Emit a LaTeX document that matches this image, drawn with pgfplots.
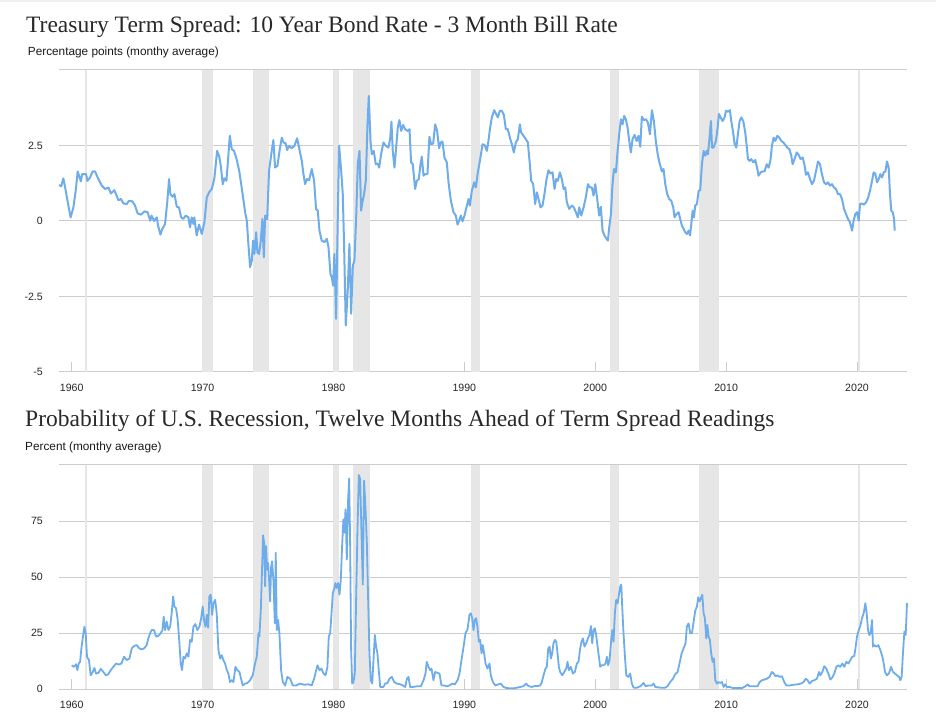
\documentclass[border=0pt]{standalone}
\usepackage{fontspec}
\setmainfont{Liberation Sans}
\newfontfamily\titlefont{Liberation Serif}
\usepackage{pgfplots}
\pgfplotsset{compat=1.18}
\definecolor{linecol}{RGB}{110,172,234}
\definecolor{recgray}{RGB}{230,230,230}
\definecolor{gridgray}{RGB}{204,204,204}
\definecolor{titlecol}{RGB}{40,40,40}
\definecolor{topstrip}{RGB}{242,240,237}

\pgfplotsset{myaxis/.style={
  scale only axis, width=848pt,
  xmin=1959.03, xmax=2023.82,
  axis line style={draw=none},
  xtick={1960,1970,1980,1990,2000,2010,2020},
  xticklabels={1960,1970,1980,1990,2000,2010,2020},
  xtick pos=bottom, ytick pos=left,
  tick align=inside, major tick length=10pt,
  xtick style={draw=gridgray, line width=0.9pt},
  ytick style={draw=none},
  ymajorgrids=true,
  grid style={gridgray, line width=1pt},
  /pgf/number format/assume math mode=true,
  ticklabel style={font=\fontsize{10.6}{12}\selectfont, text=black!85},
  yticklabel style={anchor=east, inner sep=0pt, xshift=-16pt},
  xticklabel style={anchor=north, inner sep=0pt, yshift=-11.5pt},
  clip=false,
}}

\newcommand{\recbands}[2]{%
  \fill[recgray] (axis cs:1961.01,#1) rectangle (axis cs:1961.14,#2);
  \fill[recgray] (axis cs:1969.96,#1) rectangle (axis cs:1970.82,#2);
  \fill[recgray] (axis cs:1973.86,#1) rectangle (axis cs:1975.08,#2);
  \fill[recgray] (axis cs:1980.0,#1) rectangle (axis cs:1980.45,#2);
  \fill[recgray] (axis cs:1981.48,#1) rectangle (axis cs:1982.8,#2);
  \fill[recgray] (axis cs:1990.52,#1) rectangle (axis cs:1991.22,#2);
  \fill[recgray] (axis cs:2001.15,#1) rectangle (axis cs:2001.83,#2);
  \fill[recgray] (axis cs:2007.95,#1) rectangle (axis cs:2009.42,#2);
  \fill[recgray] (axis cs:2020.07,#1) rectangle (axis cs:2020.2,#2);
}

\begin{document}
\begin{tikzpicture}[x=1pt,y=1pt]
\useasboundingbox (0,0) rectangle (936,712);
\fill[topstrip] (0,709.5) rectangle (936,712);

% titles
\node[anchor=base west, inner sep=0pt, text=titlecol, font=\titlefont\fontsize{23.5}{28}\selectfont] at (26,679.7) {Treasury Term Spread: 10 Year Bond Rate - 3 Month Bill Rate};
\node[anchor=base west, inner sep=0pt, text=black!90, font=\fontsize{11.8}{14}\selectfont] at (27.7,656.3) {Percentage points (monthy average)};
\node[anchor=base west, inner sep=0pt, text=titlecol, font=\titlefont\fontsize{23.5}{28}\selectfont] at (25,285.3) {Probability of U.S. Recession, Twelve Months Ahead of Term Spread Readings};
\node[anchor=base west, inner sep=0pt, text=black!90, font=\fontsize{11.8}{14}\selectfont] at (25,261.3) {Percent (monthy average)};

\begin{axis}[myaxis, at={(59pt,340pt)}, anchor=south west, height=302pt,
  ymin=-5, ymax=5, ytick={-5,-2.5,0,2.5,5}, yticklabels={-5,-2.5,0,2.5,{}}]
\recbands{-5}{5}
\addplot[linecol, line width=2pt, line join=round] coordinates {
(1959.03,1.19)(1959.2,1.15)(1959.36,1.41)(1959.5,1.11)(1959.7,0.62)(1959.92,0.12)(1960.13,0.45)(1960.3,0.98)(1960.46,1.64)(1960.7,1.31)(1960.8,1.55)(1961.1,1.55)(1961.2,1.33)(1961.4,1.44)(1961.6,1.64)(1961.78,1.64)(1962.04,1.39)(1962.3,1.17)(1962.55,1.06)(1962.8,1.11)(1963.0,0.91)(1963.26,1.02)(1963.57,0.69)(1963.77,0.73)(1963.95,0.58)(1964.2,0.56)(1964.38,0.67)(1964.64,0.65)(1964.84,0.51)(1965.04,0.25)(1965.3,0.21)(1965.55,0.32)(1965.8,0.29)(1966.0,0.01)(1966.1,0.18)(1966.3,0.0)(1966.5,0.12)(1966.6,-0.15)(1966.78,-0.45)(1966.93,-0.26)(1967.13,-0.1)(1967.3,0.62)(1967.44,1.39)(1967.54,0.89)(1967.7,0.8)(1967.85,0.89)(1968.03,0.47)(1968.2,0.45)(1968.36,0.12)(1968.53,0.07)(1968.71,0.18)(1968.92,0.12)(1969.04,-0.21)(1969.17,0.12)(1969.3,-0.1)(1969.37,0.12)(1969.55,-0.48)(1969.73,-0.12)(1969.94,-0.43)(1970.14,-0.04)(1970.32,0.78)(1970.5,0.95)(1970.7,1.06)(1970.9,1.41)(1971.11,2.32)(1971.26,2.16)(1971.39,1.83)(1971.54,1.22)(1971.67,1.41)(1971.82,1.33)(1971.92,1.88)(1972.08,2.82)(1972.23,2.38)(1972.4,2.32)(1972.6,2.05)(1972.8,1.66)(1973.04,0.95)(1973.25,0.29)(1973.38,0.01)(1973.5,-0.76)(1973.63,-1.53)(1973.76,-1.31)(1973.86,-0.65)(1973.96,-1.09)(1974.09,-0.37)(1974.19,-1.04)(1974.32,-1.09)(1974.45,-0.65)(1974.57,0.07)(1974.68,-1.2)(1974.78,0.18)(1974.93,0.05)(1975.08,1.66)(1975.3,2.38)(1975.41,2.68)(1975.54,1.77)(1975.72,1.83)(1975.9,2.38)(1976.05,2.76)(1976.18,2.6)(1976.35,2.57)(1976.46,2.35)(1976.61,2.49)(1976.81,2.41)(1977.02,2.49)(1977.22,2.74)(1977.37,2.43)(1977.58,1.99)(1977.71,1.55)(1977.83,1.22)(1977.98,1.39)(1978.14,1.35)(1978.34,1.72)(1978.52,1.33)(1978.67,0.4)(1978.8,0.34)(1978.93,-0.32)(1979.1,-0.65)(1979.31,-0.7)(1979.49,-0.59)(1979.62,-0.87)(1979.77,-1.75)(1979.87,-1.86)(1979.97,-2.14)(1980.07,-1.09)(1980.2,-3.24)(1980.33,0.12)(1980.43,2.49)(1980.58,1.72)(1980.71,0.89)(1980.81,-0.76)(1980.94,-3.46)(1981.09,-2.3)(1981.22,-0.76)(1981.35,-3.07)(1981.48,-1.48)(1981.6,-1.31)(1981.73,0.07)(1981.86,1.88)(1981.99,2.32)(1982.11,0.34)(1982.21,0.62)(1982.34,0.89)(1982.47,1.33)(1982.6,3.2)(1982.7,4.14)(1982.83,2.65)(1982.93,2.21)(1983.08,2.32)(1983.23,1.88)(1983.39,1.9)(1983.49,1.77)(1983.64,2.21)(1983.82,2.6)(1984.0,2.49)(1984.2,2.43)(1984.33,2.71)(1984.43,3.29)(1984.53,2.32)(1984.66,1.77)(1984.81,2.54)(1984.92,3.12)(1985.04,3.34)(1985.17,2.98)(1985.32,3.18)(1985.48,3.04)(1985.68,2.98)(1985.81,3.04)(1985.93,1.94)(1986.06,1.88)(1986.24,1.06)(1986.37,1.33)(1986.52,1.39)(1986.65,1.88)(1986.75,2.13)(1986.88,1.5)(1987.0,1.55)(1987.18,1.55)(1987.33,2.79)(1987.46,2.54)(1987.62,2.57)(1987.77,3.2)(1987.92,2.98)(1988.07,2.41)(1988.2,2.6)(1988.33,2.63)(1988.48,2.1)(1988.66,1.94)(1988.79,1.28)(1988.97,0.67)(1989.17,0.29)(1989.35,0.18)(1989.48,-0.12)(1989.6,0.01)(1989.73,0.18)(1989.86,-0.01)(1990.01,0.18)(1990.16,0.45)(1990.32,0.73)(1990.42,0.51)(1990.57,1.0)(1990.75,1.28)(1990.88,1.11)(1991.03,1.61)(1991.21,2.05)(1991.39,2.54)(1991.54,2.52)(1991.72,2.32)(1991.84,2.65)(1991.97,3.09)(1992.1,3.43)(1992.28,3.67)(1992.43,3.54)(1992.56,3.43)(1992.71,3.65)(1992.86,3.65)(1993.02,3.51)(1993.17,3.04)(1993.32,3.04)(1993.48,2.76)(1993.63,2.54)(1993.78,2.27)(1993.93,2.6)(1994.09,2.71)(1994.24,3.2)(1994.34,2.93)(1994.52,2.82)(1994.7,2.71)(1994.85,2.6)(1994.98,1.99)(1995.11,1.33)(1995.26,1.22)(1995.41,0.56)(1995.54,0.95)(1995.67,0.73)(1995.82,0.45)(1995.97,0.51)(1996.12,0.89)(1996.28,1.39)(1996.43,1.68)(1996.58,1.57)(1996.74,1.61)(1996.89,1.06)(1997.02,1.39)(1997.14,1.33)(1997.3,1.61)(1997.45,1.39)(1997.58,1.06)(1997.71,1.11)(1997.83,0.62)(1998.01,0.4)(1998.22,0.51)(1998.37,0.45)(1998.52,0.29)(1998.67,0.12)(1998.78,0.45)(1998.93,0.18)(1999.11,0.45)(1999.28,0.78)(1999.44,1.22)(1999.59,1.11)(1999.74,1.11)(1999.87,0.84)(2000.0,1.22)(2000.15,0.73)(2000.3,0.18)(2000.43,0.47)(2000.56,-0.32)(2000.71,-0.48)(2000.86,-0.59)(2000.97,-0.65)(2001.07,-0.21)(2001.2,0.23)(2001.32,1.22)(2001.43,1.72)(2001.58,1.61)(2001.71,2.32)(2001.83,2.87)(2001.96,3.37)(2002.09,3.2)(2002.21,3.48)(2002.34,3.37)(2002.47,3.09)(2002.6,2.65)(2002.72,2.27)(2002.85,2.71)(2003.0,2.85)(2003.16,2.65)(2003.31,2.82)(2003.44,2.46)(2003.56,3.45)(2003.72,3.34)(2003.87,3.37)(2004.02,3.26)(2004.18,2.87)(2004.33,3.67)(2004.48,3.31)(2004.64,2.6)(2004.79,2.16)(2004.94,1.88)(2005.09,1.64)(2005.22,1.72)(2005.35,1.22)(2005.5,0.89)(2005.65,0.73)(2005.81,0.67)(2005.96,0.45)(2006.06,0.12)(2006.21,0.23)(2006.37,0.29)(2006.49,0.07)(2006.62,-0.15)(2006.75,-0.26)(2006.88,-0.37)(2007.0,-0.43)(2007.13,-0.32)(2007.24,-0.48)(2007.34,-0.1)(2007.44,0.34)(2007.54,0.12)(2007.64,0.51)(2007.77,0.56)(2007.9,1.0)(2008.02,1.02)(2008.15,1.88)(2008.28,2.32)(2008.41,2.16)(2008.51,2.32)(2008.61,2.21)(2008.71,2.65)(2008.84,3.31)(2008.92,2.43)(2009.04,2.43)(2009.22,2.65)(2009.35,3.09)(2009.45,3.54)(2009.58,3.43)(2009.73,3.31)(2009.88,3.43)(2009.99,3.65)(2010.14,3.62)(2010.29,3.67)(2010.39,3.31)(2010.52,2.98)(2010.65,2.54)(2010.78,2.43)(2010.9,2.87)(2011.03,3.31)(2011.16,3.43)(2011.31,3.31)(2011.46,2.93)(2011.57,2.49)(2011.67,2.05)(2011.8,1.99)(2011.92,2.05)(2012.08,1.94)(2012.23,2.02)(2012.36,1.77)(2012.48,1.5)(2012.64,1.61)(2012.79,1.64)(2012.94,1.64)(2013.1,1.88)(2013.25,1.77)(2013.38,1.99)(2013.5,2.49)(2013.63,2.76)(2013.76,2.65)(2013.91,2.82)(2014.06,2.76)(2014.22,2.65)(2014.37,2.6)(2014.52,2.52)(2014.67,2.43)(2014.83,2.38)(2014.98,2.16)(2015.08,1.88)(2015.23,2.05)(2015.39,2.27)(2015.54,2.19)(2015.69,2.05)(2015.85,2.1)(2016.0,1.83)(2016.1,1.53)(2016.25,1.61)(2016.41,1.39)(2016.56,1.22)(2016.71,1.33)(2016.87,1.66)(2017.02,1.97)(2017.17,1.88)(2017.32,1.55)(2017.48,1.28)(2017.63,1.22)(2017.78,1.28)(2017.93,1.17)(2018.09,1.22)(2018.24,1.11)(2018.39,1.06)(2018.55,0.89)(2018.7,0.89)(2018.85,0.73)(2019.01,0.4)(2019.16,0.23)(2019.31,0.07)(2019.46,-0.04)(2019.62,-0.32)(2019.74,0.01)(2019.87,0.23)(2020.0,0.29)(2020.13,0.01)(2020.23,0.56)(2020.38,0.58)(2020.53,0.54)(2020.69,0.62)(2020.84,0.76)(2020.99,1.0)(2021.15,1.33)(2021.27,1.61)(2021.4,1.57)(2021.53,1.28)(2021.66,1.39)(2021.78,1.55)(2021.91,1.44)(2022.04,1.61)(2022.17,1.64)(2022.29,1.97)(2022.42,1.77)(2022.52,0.89)(2022.62,0.34)(2022.73,0.29)(2022.83,0.07)(2022.88,-0.32)
};
\end{axis}

\begin{axis}[myaxis, at={(59pt,23pt)}, anchor=south west, height=224pt,
  ymin=0, ymax=100, ytick={0,25,50,75,100}, yticklabels={0,25,50,75,{}}]
\recbands{0}{100}
\addplot[linecol, line width=1.8pt, line join=round] coordinates {
(1960.0,10.6)(1960.18,9.9)(1960.33,11.1)(1960.43,8.4)(1960.54,11.4)(1960.64,12.1)(1960.74,18.1)(1960.84,22.6)(1960.97,27.8)(1961.07,24.9)(1961.17,14.4)(1961.32,12.9)(1961.45,6.1)(1961.61,7.6)(1961.73,9.4)(1961.86,6.9)(1962.04,7.2)(1962.22,9.0)(1962.42,7.6)(1962.62,6.1)(1962.8,6.6)(1962.98,8.4)(1963.18,9.9)(1963.39,11.4)(1963.59,10.9)(1963.8,11.4)(1964.0,14.4)(1964.2,12.9)(1964.41,13.6)(1964.59,18.1)(1964.76,19.2)(1964.97,19.6)(1965.17,18.1)(1965.35,17.7)(1965.53,18.1)(1965.73,19.6)(1965.86,22.6)(1965.99,24.9)(1966.11,26.3)(1966.29,26.3)(1966.45,23.4)(1966.62,23.7)(1966.8,24.9)(1966.93,26.3)(1967.03,32.3)(1967.13,26.3)(1967.26,30.1)(1967.39,26.3)(1967.52,27.8)(1967.64,33.8)(1967.75,41.3)(1967.85,36.8)(1967.97,36.1)(1968.1,30.8)(1968.23,20.4)(1968.33,11.4)(1968.43,8.4)(1968.54,14.4)(1968.66,13.6)(1968.79,15.9)(1968.92,14.4)(1969.04,21.9)(1969.17,21.1)(1969.3,27.8)(1969.45,29.0)(1969.6,26.3)(1969.76,27.8)(1969.89,31.6)(1970.01,36.8)(1970.11,30.8)(1970.22,27.8)(1970.32,33.1)(1970.42,27.4)(1970.52,41.3)(1970.62,42.1)(1970.73,33.1)(1970.83,38.3)(1970.96,39.8)(1971.08,33.8)(1971.21,17.4)(1971.34,13.6)(1971.46,15.1)(1971.59,12.9)(1971.72,11.4)(1971.85,8.4)(1971.97,6.9)(1972.1,3.1)(1972.23,3.9)(1972.36,3.1)(1972.51,9.9)(1972.66,8.4)(1972.82,7.6)(1972.94,4.6)(1973.07,1.6)(1973.25,2.4)(1973.43,2.7)(1973.63,3.9)(1973.83,6.1)(1974.01,11.4)(1974.14,14.4)(1974.27,24.9)(1974.34,23.4)(1974.45,35.3)(1974.55,54.8)(1974.62,68.6)(1974.7,65.3)(1974.78,45.8)(1974.85,63.8)(1974.93,53.3)(1975.01,56.3)(1975.08,48.8)(1975.16,39.1)(1975.24,54.8)(1975.31,57.0)(1975.41,48.8)(1975.52,29.3)(1975.59,60.8)(1975.67,26.3)(1975.77,30.8)(1975.87,24.9)(1976.0,8.4)(1976.13,3.1)(1976.31,1.6)(1976.48,5.4)(1976.69,4.6)(1976.89,1.6)(1977.15,1.6)(1977.45,2.4)(1977.76,1.9)(1978.09,2.1)(1978.34,1.6)(1978.52,4.6)(1978.68,8.4)(1978.78,10.6)(1978.93,8.4)(1979.08,9.1)(1979.24,6.9)(1979.39,6.1)(1979.54,9.9)(1979.64,23.4)(1979.75,24.9)(1979.85,33.8)(1979.95,42.8)(1980.05,44.6)(1980.15,47.3)(1980.25,45.1)(1980.36,47.3)(1980.46,42.1)(1980.56,48.8)(1980.66,63.8)(1980.76,75.7)(1980.84,69.8)(1980.92,80.2)(1981.02,57.8)(1981.12,84.7)(1981.2,94.0)(1981.27,66.8)(1981.35,17.4)(1981.43,2.4)(1981.53,3.1)(1981.63,6.9)(1981.73,39.8)(1981.83,69.8)(1981.94,95.5)(1982.04,93.7)(1982.14,69.8)(1982.24,46.6)(1982.34,93.0)(1982.45,80.2)(1982.55,65.3)(1982.65,39.8)(1982.75,15.9)(1982.85,3.9)(1982.96,2.4)(1983.06,12.9)(1983.16,24.1)(1983.26,18.9)(1983.36,15.9)(1983.46,8.4)(1983.57,0.9)(1983.69,0.9)(1983.82,0.9)(1983.95,2.4)(1984.13,2.7)(1984.28,4.6)(1984.46,5.4)(1984.64,3.1)(1984.84,2.4)(1985.1,2.1)(1985.3,1.6)(1985.48,0.9)(1985.61,4.6)(1985.73,5.4)(1985.86,0.9)(1986.06,0.9)(1986.37,1.2)(1986.68,1.2)(1986.88,3.9)(1987.03,6.9)(1987.13,12.1)(1987.26,9.9)(1987.39,8.4)(1987.49,9.1)(1987.64,3.9)(1987.77,7.6)(1987.95,7.2)(1988.1,6.9)(1988.25,1.6)(1988.46,1.6)(1988.66,1.2)(1988.87,1.6)(1989.07,2.4)(1989.27,2.1)(1989.48,3.9)(1989.63,6.9)(1989.78,12.9)(1989.94,18.9)(1990.09,25.0)(1990.24,26.5)(1990.39,33.1)(1990.5,33.8)(1990.6,31.6)(1990.7,26.3)(1990.8,30.8)(1990.9,31.6)(1991.0,27.8)(1991.11,21.1)(1991.21,21.9)(1991.31,15.9)(1991.41,19.6)(1991.51,15.9)(1991.62,11.4)(1991.77,9.1)(1991.92,11.4)(1992.02,6.1)(1992.18,3.1)(1992.36,1.6)(1992.61,2.1)(1992.79,2.4)(1992.99,0.9)(1993.25,0.4)(1993.76,0.3)(1994.27,0.9)(1994.52,1.3)(1994.72,2.4)(1994.9,1.3)(1995.16,0.9)(1995.34,1.3)(1995.59,1.3)(1995.8,1.6)(1995.92,3.1)(1996.05,6.1)(1996.2,9.1)(1996.3,9.9)(1996.41,18.1)(1996.51,18.9)(1996.61,13.6)(1996.71,15.9)(1996.81,20.4)(1996.92,21.9)(1997.02,21.1)(1997.12,15.9)(1997.22,9.9)(1997.32,7.6)(1997.48,6.1)(1997.63,7.6)(1997.78,9.1)(1997.88,12.1)(1997.99,8.4)(1998.14,9.9)(1998.29,6.9)(1998.44,7.6)(1998.6,11.4)(1998.72,12.1)(1998.85,18.1)(1998.95,21.1)(1999.06,22.6)(1999.18,18.9)(1999.31,20.4)(1999.44,22.6)(1999.56,24.1)(1999.67,28.1)(1999.77,20.4)(1999.87,26.3)(1999.97,27.1)(2000.07,24.1)(2000.18,18.9)(2000.28,14.4)(2000.38,9.9)(2000.48,10.6)(2000.64,10.6)(2000.79,11.4)(2000.89,14.4)(2000.99,10.6)(2001.09,12.9)(2001.2,20.4)(2001.3,26.3)(2001.4,21.1)(2001.5,33.8)(2001.6,39.8)(2001.71,38.3)(2001.81,42.1)(2001.91,45.8)(2001.99,46.6)(2002.06,36.8)(2002.16,24.9)(2002.27,14.4)(2002.37,6.1)(2002.52,5.4)(2002.67,6.9)(2002.8,2.4)(2002.93,0.6)(2003.18,0.6)(2003.44,1.2)(2003.69,2.7)(2003.85,1.2)(2004.08,1.6)(2004.33,1.6)(2004.46,2.4)(2004.59,0.9)(2004.97,0.6)(2005.35,0.6)(2005.53,1.3)(2005.73,3.1)(2005.94,4.6)(2006.11,6.6)(2006.29,7.6)(2006.44,11.4)(2006.6,15.9)(2006.75,18.1)(2006.9,20.4)(2007.0,27.8)(2007.13,29.3)(2007.26,24.9)(2007.39,24.9)(2007.52,30.1)(2007.64,35.0)(2007.77,36.8)(2007.87,41.0)(2007.97,39.1)(2008.08,40.6)(2008.18,42.1)(2008.28,33.8)(2008.38,31.6)(2008.48,22.6)(2008.56,28.6)(2008.66,23.4)(2008.76,21.9)(2008.86,15.9)(2008.97,12.1)(2009.07,13.6)(2009.17,3.9)(2009.3,2.4)(2009.43,3.1)(2009.55,2.7)(2009.68,3.1)(2009.81,0.9)(2009.93,2.1)(2010.06,0.9)(2010.27,0.9)(2010.52,0.4)(2010.83,0.4)(2011.21,0.4)(2011.47,1.2)(2011.64,2.1)(2011.79,1.2)(2012.1,1.2)(2012.41,1.2)(2012.56,3.1)(2012.74,3.9)(2012.92,4.2)(2013.12,4.6)(2013.32,5.4)(2013.5,7.6)(2013.63,6.9)(2013.78,5.7)(2013.93,6.1)(2014.09,5.4)(2014.27,5.7)(2014.44,3.1)(2014.6,1.6)(2014.85,1.6)(2015.16,1.9)(2015.46,2.1)(2015.72,2.4)(2015.92,3.1)(2016.08,4.6)(2016.23,3.9)(2016.38,2.4)(2016.56,3.6)(2016.74,3.9)(2016.94,4.6)(2017.1,7.6)(2017.2,6.1)(2017.35,7.6)(2017.5,10.2)(2017.65,9.1)(2017.81,6.9)(2017.96,4.2)(2018.11,5.1)(2018.27,6.9)(2018.42,9.9)(2018.57,10.6)(2018.72,9.9)(2018.88,11.4)(2019.03,9.9)(2019.18,12.1)(2019.34,11.4)(2019.49,12.9)(2019.64,14.4)(2019.79,14.7)(2019.9,18.9)(2020.0,23.4)(2020.13,26.3)(2020.25,28.1)(2020.38,31.6)(2020.51,33.8)(2020.64,38.3)(2020.74,33.8)(2020.84,26.3)(2020.94,24.1)(2021.04,24.9)(2021.15,30.8)(2021.22,18.9)(2021.32,19.6)(2021.48,18.9)(2021.63,19.6)(2021.78,17.4)(2021.94,14.4)(2022.04,11.4)(2022.14,7.6)(2022.29,6.1)(2022.44,6.9)(2022.6,9.9)(2022.75,7.6)(2022.9,6.9)(2023.06,6.1)(2023.21,5.4)(2023.31,3.9)(2023.41,5.4)(2023.51,15.9)(2023.62,25.6)(2023.72,24.1)(2023.82,38.3)
};
\end{axis}
\end{tikzpicture}
\end{document}
